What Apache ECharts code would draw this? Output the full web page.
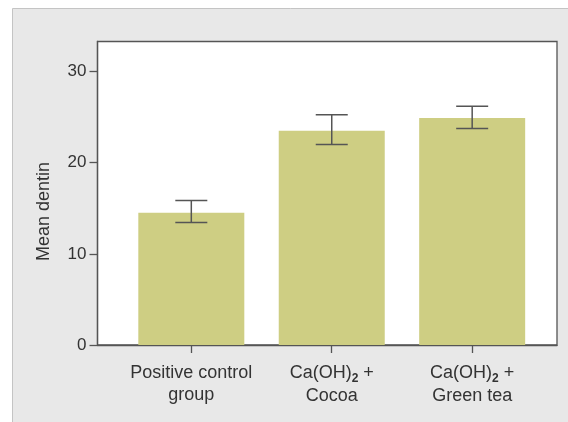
<!DOCTYPE html>
<html>
<head>
<meta charset="utf-8">
<script src="https://cdn.jsdelivr.net/npm/echarts@6/dist/echarts.min.js"></script>
<style>html,body{margin:0;padding:0;background:#fff}#c{width:568px;height:422px}</style>
</head>
<body>
<div id="c"></div>
<script>
var categories = ['Positive control\ngroup', 'Ca(OH)2 +\nCocoa', 'Ca(OH)2 +\nGreen tea'];
var means = [14.5, 23.5, 24.9];
var errLow = [13.45, 22.0, 23.75];
var errHigh = [15.85, 25.25, 26.2];
var yTicks = [0, 10, 20, 30];
var yName = 'Mean dentin';

var positions = categories.map(function (c, i) { return i + 1; });
var barData = means.map(function (v, i) { return [positions[i], v]; });
var errData = means.map(function (v, i) { return [positions[i], errLow[i], errHigh[i]]; });

function fmtCat(v) {
  var idx = Math.round(v) - 1;
  var s = categories[idx] || '';
  return s.split('\n').map(function (line) {
    return line.split('2').map(function (p) { return p ? '{t|' + p + '}' : ''; }).join('{s|2}');
  }).join('\n');
}

var chart = echarts.init(document.getElementById('c'));
chart.setOption({
  backgroundColor: '#ffffff',
  animation: false,
  graphic: [
    { type: 'rect', z: -10, shape: { x: 12.5, y: 8.5, width: 600, height: 500 },
      style: { fill: '#e8e8e8', stroke: '#c4c4c4', lineWidth: 1 } },
    { type: 'text', left: 35, top: 162, rotation: Math.PI / 2, z: 10,
      style: { text: yName, fontSize: 18, fontFamily: 'Liberation Sans', fill: '#333' } }
  ],
  grid: { left: 97.5, top: 41.5, right: 11, bottom: 77, show: true, backgroundColor: '#fff', borderColor: '#555', borderWidth: 1.3 },
  xAxis: {
    type: 'value', min: 0.332, max: 3.604,
    splitLine: { show: false },
    axisLine: { lineStyle: { color: '#555', width: 1.3 } },
    axisTick: { show: true, length: 8, customValues: positions, lineStyle: { color: '#555', width: 1.3 } },
    axisLabel: {
      customValues: positions, margin: 17, formatter: fmtCat, color: '#333',
      rich: {
        t: { fontSize: 18, fontFamily: 'Liberation Sans', color: '#333', lineHeight: 22 },
        s: { fontSize: 12, fontWeight: 'bold', fontFamily: 'Liberation Sans', color: '#333', padding: [11, 0, 0, 0] }
      }
    }
  },
  yAxis: {
    type: 'value', min: 0, max: 33.3,
    splitLine: { show: false },
    axisLine: { show: true, lineStyle: { color: '#555', width: 1.3 } },
    axisTick: { show: true, length: 8, customValues: yTicks, lineStyle: { color: '#555', width: 1.3 } },
    axisLabel: { customValues: yTicks, margin: 11, fontSize: 17, fontFamily: 'Liberation Sans', color: '#333' }
  },
  series: [
    { type: 'bar', data: barData, barWidth: 106, itemStyle: { color: '#cece83' }, z: 2 },
    {
      type: 'custom', data: errData, z: 5,
      renderItem: function (params, api) {
        var x = api.value(0);
        var lo = api.coord([x, api.value(1)]);
        var hi = api.coord([x, api.value(2)]);
        var hw = 16;
        var st = { stroke: '#555', lineWidth: 1.5 };
        return { type: 'group', children: [
          { type: 'line', shape: { x1: lo[0], y1: lo[1], x2: hi[0], y2: hi[1] }, style: st },
          { type: 'line', shape: { x1: lo[0] - hw, y1: lo[1], x2: lo[0] + hw, y2: lo[1] }, style: st },
          { type: 'line', shape: { x1: hi[0] - hw, y1: hi[1], x2: hi[0] + hw, y2: hi[1] }, style: st }
        ]};
      }
    }
  ]
});
</script>
</body>
</html>
